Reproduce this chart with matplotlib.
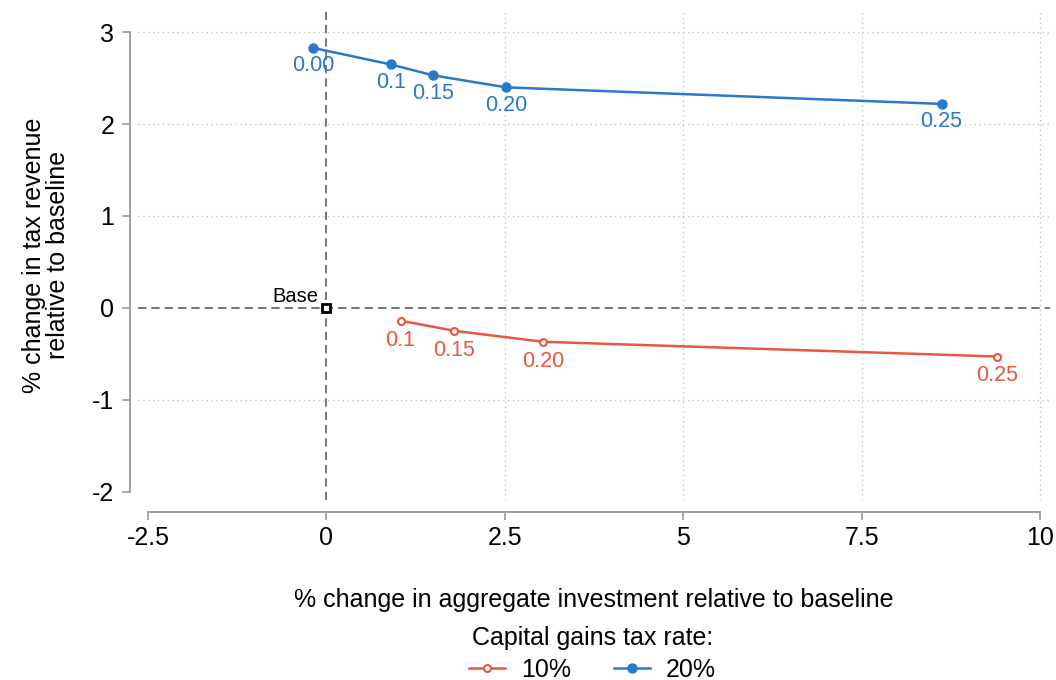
import matplotlib
matplotlib.use("Agg")
import matplotlib.pyplot as plt

plt.rcParams['font.family'] = ['Liberation Sans', 'DejaVu Sans']
plt.rcParams['axes.unicode_minus'] = False

# Data
invest_10 = [1.04, 1.79, 3.04, 9.40]
revenue_10 = [-0.14, -0.25, -0.37, -0.53]
labels_10 = ["0.1", "0.15", "0.20", "0.25"]

invest_20 = [-0.19, 0.90, 1.50, 2.52, 8.62]
revenue_20 = [2.83, 2.65, 2.53, 2.40, 2.22]
labels_20 = ["0.00", "0.1", "0.15", "0.20", "0.25"]

xticks = [-2.5, 0, 2.5, 5, 7.5, 10]
xticklabels = ["-2.5", "0", "2.5", "5", "7.5", "10"]
yticks = [-2, -1, 0, 1, 2, 3]

red = "#E8573F"
blue = "#2878CC"

fig = plt.figure(figsize=(10.56, 6.8), dpi=100)
ax = fig.add_axes([0.1307, 0.265, 0.8636, 0.72])

# gridlines (skip zero, drawn as dashed reference lines)
grid_style = dict(color="#c4c4c4", linestyle=(0, (1, 2.5)), linewidth=1.0, zorder=0)
for xv in [2.5, 5, 7.5, 10]:
    ax.axvline(xv, **grid_style)
for yv in [-1, 1, 2, 3]:
    ax.axhline(yv, **grid_style)

ax.axvline(0, color="#606060", linestyle=(0, (5, 3)), linewidth=1.2, zorder=1)
ax.axhline(0, color="#606060", linestyle=(0, (5, 3)), linewidth=1.2, zorder=1)

ax.plot(invest_10, revenue_10, color=red, linewidth=1.8, marker="o", markersize=5,
        markerfacecolor="white", markeredgecolor=red, markeredgewidth=1.5, label="10%", zorder=3)
ax.plot(invest_20, revenue_20, color=blue, linewidth=1.8, marker="o", markersize=6.5,
        label="20%", zorder=3)

for x, y, t in zip(invest_10, revenue_10, labels_10):
    ax.annotate(t, (x, y), xytext=(0, -14), textcoords="offset points", ha="center",
                va="center", color=red, fontsize=15.5)
for x, y, t in zip(invest_20, revenue_20, labels_20):
    ax.annotate(t, (x, y), xytext=(0, -13), textcoords="offset points", ha="center",
                va="center", color=blue, fontsize=15.5)

# baseline point
ax.plot([0], [0], marker="s", markersize=5.5, markerfacecolor="white",
        markeredgecolor="black", markeredgewidth=2, linestyle="none", zorder=4)
ax.annotate("Base", (0, 0), xytext=(-6, 8), textcoords="offset points", ha="right",
            va="center", color="black", fontsize=14.5)

ax.set_xlim(-2.64, 10.14)
ax.set_ylim(-2.09, 3.24)
ax.set_xticks(xticks)
ax.set_xticklabels(xticklabels)
ax.set_yticks(yticks)

for s in ["top", "right"]:
    ax.spines[s].set_visible(False)
ax.spines["left"].set_position(("outward", 6))
ax.spines["bottom"].set_position(("outward", 9))
ax.spines["left"].set_bounds(-2, 3)
ax.spines["bottom"].set_bounds(-2.5, 10)
for s in ["left", "bottom"]:
    ax.spines[s].set_color("#999999")
    ax.spines[s].set_linewidth(1.3)
ax.tick_params(axis="both", colors="#999999", labelcolor="black", labelsize=18,
               length=6, width=1.2)
ax.tick_params(axis="x", pad=4)
ax.tick_params(axis="y", pad=5)

ax.set_xlabel("% change in aggregate investment relative to baseline", fontsize=18, labelpad=27)
ax.set_ylabel("% change in tax revenue\nrelative to baseline", fontsize=18, labelpad=16,
              linespacing=1.0)

leg = fig.legend(loc="upper center", bbox_to_anchor=(0.561, 0.080), ncol=2, frameon=False,
                 fontsize=18, title="Capital gains tax rate:", title_fontsize=18,
                 handlelength=1.45, handletextpad=0.65, columnspacing=1.7,
                 borderaxespad=0, borderpad=0)
leg._legend_box.sep = 6

fig.savefig("out.png", dpi=100)
